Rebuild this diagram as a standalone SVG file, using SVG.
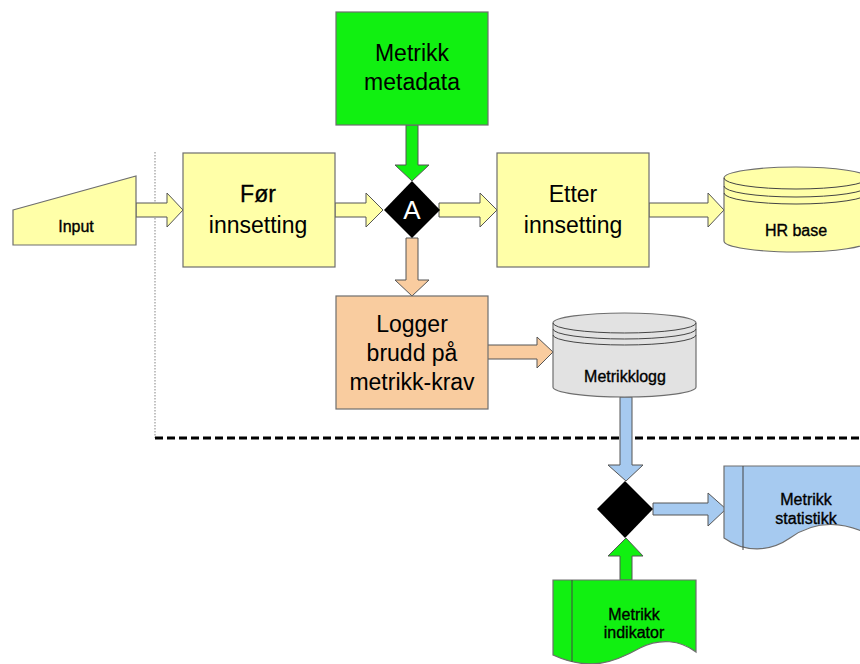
<svg xmlns="http://www.w3.org/2000/svg" width="860" height="664" viewBox="0 0 860 664">
<style>
  text { font-family: "Liberation Sans", Arial, sans-serif; fill: #000; text-anchor: middle; }
  .big { font-size: 23px; }
  .small { font-size: 16px; stroke: #000; stroke-width: 0.35px; }
  .box { stroke: #6e6e6e; stroke-width: 1.2; }
  .yel { fill: #FFFFA8; }
  .grn { fill: #11F011; }
  .org { fill: #F9CC9F; }
  .blu { fill: #A6CAF0; }
  .gry { fill: #E2E2E2; }
  .arr { stroke: #555; stroke-width: 1; }
  .line { fill: none; stroke: #444; stroke-width: 1; }
</style>
<rect width="860" height="664" fill="#fff"/>

<g id="separators">
  <line x1="155" y1="152" x2="155" y2="438" stroke="#999" stroke-width="1.2" stroke-dasharray="1.5,1.5"/>
  <line x1="155" y1="438" x2="860" y2="438" stroke="#000" stroke-width="3" stroke-dasharray="8,4"/>
</g>

<g id="connectors">
  <polygon class="arr yel" points="136,203 167,203 167,193 183,210 167,227 167,217 136,217"/>
  <polygon class="arr yel" points="335,203 366,203 366,193 383,210 366,227 366,217 335,217"/>
  <polygon class="arr yel" points="439,203 480,203 480,193 497,210 480,227 480,217 439,217"/>
  <polygon class="arr yel" points="649,203 708,203 708,193 724,210 708,227 708,217 649,217"/>
  <polygon class="arr grn" points="406,125 418,125 418,165 429,165 412,181 395,165 406,165"/>
  <polygon class="arr org" points="406,238 418,238 418,280 429,280 412,296 395,280 406,280"/>
  <polygon class="arr org" points="487,345 537,345 537,337 553,352 537,368 537,359 487,359"/>
  <polygon class="arr blu" points="620,397 632,397 632,465 643,465 626,481 608,465 620,465"/>
  <polygon class="arr grn" points="620,580 632,580 632,556 643,556 626,538 608,556 620,556"/>
  <polygon class="arr blu" points="653,503 708,503 708,493 726,509 708,526 708,515 653,515"/>
</g>

<g id="input">
  <polygon class="box yel" points="13,210 136,176 136,245 13,245"/>
  <text class="small" x="76" y="232">Input</text>
</g>

<g id="for-innsetting">
  <rect class="box yel" x="183" y="153" width="152" height="114"/>
  <text class="big" x="258" y="202" style="stroke:#000;stroke-width:0.3px">Før</text>
  <text class="big" x="258" y="233">innsetting</text>
</g>

<g id="metrikk-metadata">
  <rect class="box grn" x="336" y="12" width="152" height="113"/>
  <text class="big" x="412" y="61">Metrikk</text>
  <text class="big" x="412" y="90">metadata</text>
</g>

<g id="diamond-a">
  <polygon points="412,181 440,210 412,238 384,210" fill="#000"/>
  <text x="412" y="219" style="font-size:26px;fill:#fff">A</text>
</g>

<g id="etter-innsetting">
  <rect class="box yel" x="497" y="153" width="152" height="114"/>
  <text class="big" x="573" y="202">Etter</text>
  <text class="big" x="573" y="233">innsetting</text>
</g>

<g id="hr-base">
  <path class="box yel" d="M724,178 A72,11 0 0 1 868,178 V241 A72,11 0 0 1 724,241 Z"/>
  <path class="line" d="M724,178 A72,11 0 0 0 868,178"/>
  <path class="line" d="M724,186 A72,11 0 0 0 868,186"/>
  <path class="line" d="M724,193 A72,11 0 0 0 868,193"/>
  <text class="small" x="796" y="236">HR base</text>
</g>

<g id="logger">
  <rect class="box org" x="336" y="296" width="152" height="113"/>
  <text class="big" x="412" y="332">Logger</text>
  <text class="big" x="412" y="361">brudd på</text>
  <text class="big" x="412" y="390">metrikk-krav</text>
</g>

<g id="metrikklogg">
  <path class="box gry" d="M553,323 A71.5,10 0 0 1 696,323 V387 A71.5,10 0 0 1 553,387 Z"/>
  <path class="line" d="M553,323 A71.5,10 0 0 0 696,323"/>
  <path class="line" d="M553,329 A71.5,10 0 0 0 696,329"/>
  <path class="line" d="M553,335 A71.5,10 0 0 0 696,335"/>
  <text class="small" x="625" y="382">Metrikklogg</text>
</g>

<g id="diamond-2">
  <polygon points="625,481 653,509 625,538 597,509" fill="#000"/>
</g>

<g id="metrikk-statistikk">
  <path class="box blu" d="M724,466 H875 V538 C845,520 815,520 790,538 C770,552 745,553 724,538 Z"/>
  <line class="line" x1="743" y1="466" x2="743" y2="550"/>
  <text class="small" x="806" y="505">Metrikk</text>
  <text class="small" x="806" y="524">statistikk</text>
</g>

<g id="metrikk-indikator">
  <path class="box grn" d="M553,580 H696 V652 C680,640 660,638 640,648 C615,662 590,672 553,655 Z"/>
  <line class="line" x1="572" y1="580" x2="572" y2="662"/>
  <text class="small" x="634" y="620">Metrikk</text>
  <text class="small" x="634" y="638">indikator</text>
</g>
</svg>
